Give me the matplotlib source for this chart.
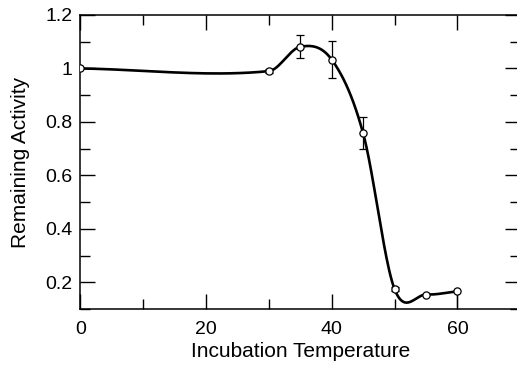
import numpy as np
import matplotlib
matplotlib.use("Agg")
import matplotlib.pyplot as plt
from matplotlib.ticker import MultipleLocator

plt.rcParams["font.family"] = ["Liberation Sans", "DejaVu Sans"]

temps = [0, 30, 35, 40, 45, 50, 55, 60]
activity = [1.0, 0.99, 1.081, 1.033, 0.757, 0.174, 0.154, 0.166]
err_lo = [0.0, 0.008, 0.043, 0.07, 0.06, 0.008, 0.0, 0.06]
err_hi = [0.0, 0.008, 0.043, 0.07, 0.06, 0.008, 0.0, 0.0]
caps = [False, True, True, True, True, True, False, False]


def smooth_curve(x, y, n=40):
    """Cubic Hermite (Catmull-Rom style) curve through the points."""
    x = np.asarray(x, float)
    y = np.asarray(y, float)
    m = np.empty_like(y)
    m[1:-1] = (y[2:] - y[:-2]) / (x[2:] - x[:-2])
    m[0] = (y[1] - y[0]) / (x[1] - x[0])
    m[-1] = (y[-1] - y[-2]) / (x[-1] - x[-2])
    xs_all, ys_all = [], []
    for i in range(len(x) - 1):
        h = x[i + 1] - x[i]
        t = np.linspace(0, 1, n)
        h00 = 2 * t ** 3 - 3 * t ** 2 + 1
        h10 = t ** 3 - 2 * t ** 2 + t
        h01 = -2 * t ** 3 + 3 * t ** 2
        h11 = t ** 3 - t ** 2
        xs_all.append(x[i] + t * h)
        ys_all.append(h00 * y[i] + h10 * h * m[i] + h01 * y[i + 1] + h11 * h * m[i + 1])
    return np.concatenate(xs_all), np.concatenate(ys_all)


fig = plt.figure(figsize=(5.17, 3.68), dpi=100)
ax = fig.add_axes([80.3 / 517, 59 / 368, 440 / 517, 294 / 368])

xs, ys = smooth_curve(temps, activity)
ax.plot(xs, ys, color="black", linewidth=1.9, zorder=2)

for x, y, lo, hi, c in zip(temps, activity, err_lo, err_hi, caps):
    if lo == 0 and hi == 0:
        continue
    ax.errorbar([x], [y], yerr=[[lo], [hi]], fmt="none", ecolor="black",
                elinewidth=0.9, capsize=3.2 if c else 0, capthick=0.9, zorder=1)

ax.plot(temps, activity, "o", markersize=5.2, markerfacecolor="white",
        markeredgecolor="black", markeredgewidth=0.9, zorder=3)

ax.set_xlim(0, 70)
ax.set_ylim(0.1, 1.2)
ax.xaxis.set_major_locator(MultipleLocator(20))
ax.xaxis.set_minor_locator(MultipleLocator(10))
ax.yaxis.set_major_locator(MultipleLocator(0.2))
ax.yaxis.set_minor_locator(MultipleLocator(0.1))
ax.yaxis.set_major_formatter(plt.FuncFormatter(lambda v, _: f"{v:g}"))

ax.tick_params(which="both", direction="in", top=True, right=True,
               width=1.0, labelsize=14)
ax.tick_params(which="major", length=10.5)
ax.tick_params(which="minor", length=7.5)
ax.tick_params(axis="x", which="major", pad=8.5)
ax.tick_params(axis="y", which="major", pad=5.5)
for spine in ax.spines.values():
    spine.set_linewidth(1.1)

ax.set_xlabel("Incubation Temperature", fontsize=15, labelpad=3)
ax.set_ylabel("Remaining Activity", fontsize=15, labelpad=11)

fig.savefig("out.png", dpi=100)
